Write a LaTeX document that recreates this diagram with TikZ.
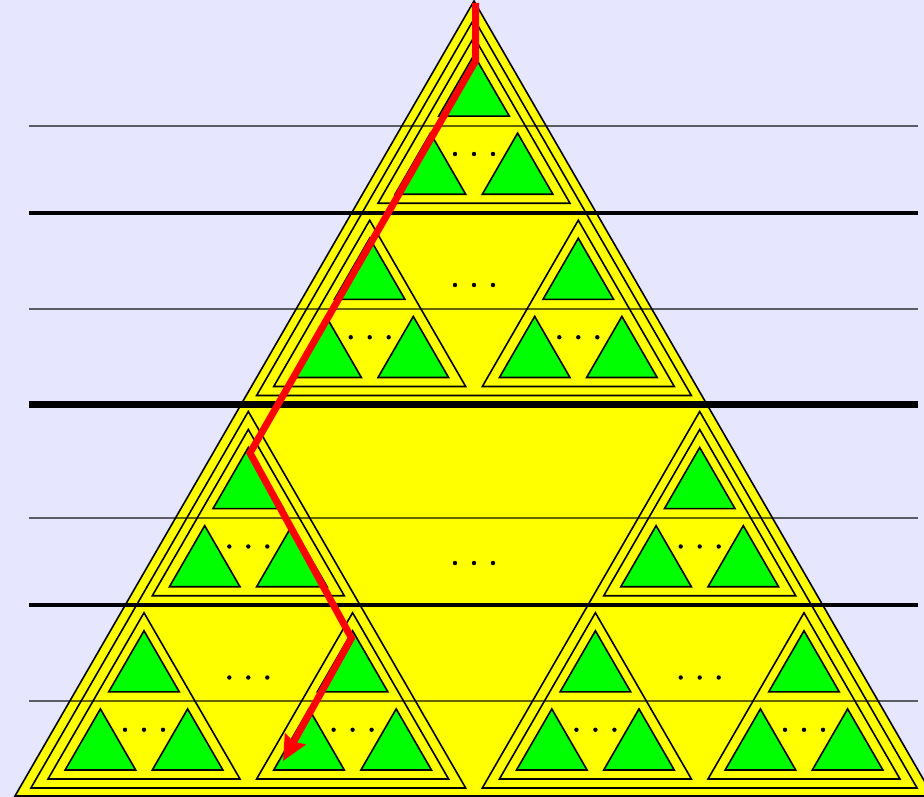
\documentclass[tikz,border=0pt]{standalone}
\usepackage{tikz}
\usetikzlibrary{arrows.meta}
\definecolor{bglavender}{RGB}{230, 230, 255}
\definecolor{triyellow}{RGB}{255, 255, 0}
\definecolor{trigreen}{RGB}{0, 255, 0}
\definecolor{pathred}{RGB}{255, 0, 0}
\tikzstyle{yellowtri} = [draw=black, fill=triyellow, line width=1.6pt]
\tikzstyle{greentri} = [draw=black, fill=trigreen, line width=1.6pt]
\tikzstyle{thinrule} = [draw=black, draw opacity=0.6, line width=1.5pt]
\tikzstyle{midrule} = [draw=black, line width=3.2pt]
\tikzstyle{thickrule} = [draw=black, line width=6.5pt]
\tikzstyle{redpath} = [draw=pathred, line width=7pt, -{Stealth[length=25pt, width=23pt, inset=3pt]}]
% triangle: style, apex x, apex y, height
\newcommand{\drawtri}[4]{\path[#1] (#2,#3) -- ++({-(#4)/sqrt(3)},#4) -- ++({2*(#4)/sqrt(3)},0) -- cycle;}
\newcommand{\dotrow}[2]{\foreach \k in {-1,0,1} \fill (#1+19*\k,#2) circle[radius=2.2];}
% one green on top, two below
\newcommand{\levelone}[2]{%
  \drawtri{yellowtri}{#1}{#2}{166.25}
  \drawtri{greentri}{#1}{#2+18}{61.1}
  \drawtri{greentri}{#1-43.6}{#2+96.15}{61.1}
  \drawtri{greentri}{#1+43.6}{#2+96.15}{61.1}
  \dotrow{#1}{#2+117}}
% three level-one triangles
\newcommand{\leveltwo}[2]{%
  \drawtri{yellowtri}{#1}{#2}{376.5}
  \levelone{#1}{#2+18}
  \levelone{#1-104.3}{#2+201.25}
  \levelone{#1+104.3}{#2+201.25}
  \dotrow{#1}{#2+266}}

\begin{document}
\begin{tikzpicture}[x=1pt, y=-1pt]
    % Background
    \fill[bglavender] (0,0) rectangle (924,797);
    \useasboundingbox (0,0) rectangle (924,797);

    % Big triangle
    \drawtri{yellowtri}{474}{1}{795}
    \leveltwo{474}{19}
    \leveltwo{474-225.7}{411.5}
    \leveltwo{474+225.7}{411.5}
    \dotrow{474}{563}

    % Rules
    \foreach \y in {126, 309, 518, 701}
        \draw[thinrule] (29,\y) -- (918,\y);
    \foreach \y in {213, 605}
        \draw[midrule] (29,\y) -- (918,\y);
    \draw[thickrule] (29,404.5) -- (918,404.5);

    % Path
    \coordinate (start) at (475.5,3);
    \coordinate (topgreen) at (475.5,61);
    \coordinate (leftgreen) at (250,453);
    \coordinate (midgreen) at (351.5,638);
    \coordinate (goal) at (283,761);
    \draw[redpath] (start) -- (topgreen) -- (leftgreen) -- (midgreen) -- (goal);
\end{tikzpicture}
\end{document}
